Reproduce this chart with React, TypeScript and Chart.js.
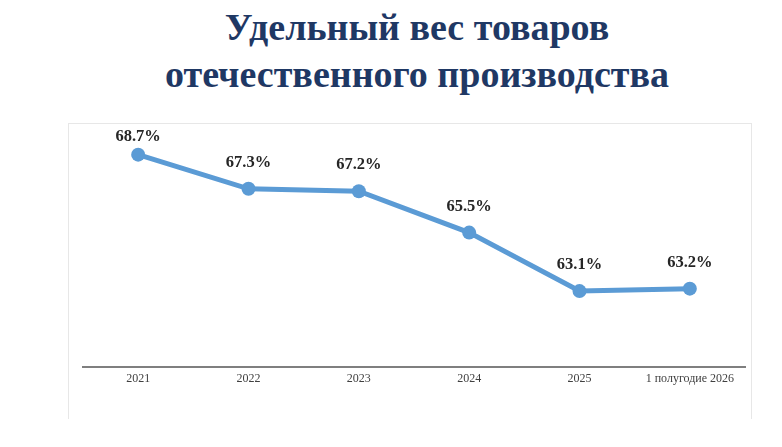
import { useEffect, useRef } from "react";
import { Chart, registerables } from "chart.js";

Chart.register(...registerables);

const categories = ["2021", "2022", "2023", "2024", "2025", "1 полугодие 2026"];
const shareValues = [68.7, 67.3, 67.2, 65.5, 63.1, 63.2];
const titleLines = ["Удельный вес товаров", "отечественного производства"];

// draws "xx.x%" above each point, kept inside the plot area
const valueLabels = {
  id: "valueLabels",
  afterDatasetsDraw(chart: any) {
    const ctx = chart.ctx;
    const meta = chart.getDatasetMeta(0);
    const top = chart.chartArea.top;
    ctx.save();
    ctx.font = "bold 16.5px 'Liberation Serif', serif";
    ctx.fillStyle = "#262626";
    ctx.textAlign = "center";
    ctx.textBaseline = "middle";
    meta.data.forEach((pt: any, i: number) => {
      const y = Math.max(pt.y - 26, top + 14);
      ctx.fillText(shareValues[i].toFixed(1) + "%", pt.x, y);
    });
    ctx.restore();
  },
};

export default function App() {
  const chartRef = useRef<HTMLCanvasElement>(null);

  useEffect(() => {
    if (!chartRef.current) return;
    const ctx = chartRef.current.getContext("2d");
    if (!ctx) return;

    const myChart = new Chart(ctx, {
      type: "line",
      data: {
        labels: categories,
        datasets: [
          {
            data: shareValues,
            borderColor: "#5B9BD5",
            backgroundColor: "#5B9BD5",
            borderWidth: 5,
            pointRadius: 7,
            pointHoverRadius: 7,
            pointBorderWidth: 0,
            fill: false,
            tension: 0,
          },
        ],
      },
      options: {
        responsive: false,
        animation: false,
        layout: { padding: { left: 83, right: 37, top: 123, bottom: 56 } },
        plugins: {
          legend: { display: false },
          tooltip: { enabled: false },
        },
        scales: {
          x: {
            offset: true,
            grid: { display: false, drawTicks: false },
            border: { display: true, color: "#7f7f7f", width: 2 },
            ticks: {
              padding: 5,
              color: "#404040",
              font: { family: "'Liberation Serif', serif", size: 12 },
              maxRotation: 0,
              autoSkip: false,
            },
          },
          y: {
            display: false,
            min: 60,
            max: 70,
          },
        },
      },
      plugins: [valueLabels],
    });

    return () => {
      myChart.destroy();
    };
  }, []);

  return (
    <div
      style={{
        position: "fixed",
        left: 0,
        top: 0,
        width: 782,
        height: 447,
        background: "#fff",
        overflow: "hidden",
      }}
    >
      {titleLines.map((t, i) => (
        <div
          key={i}
          style={{
            position: "absolute",
            left: 0,
            width: 834,
            top: 5 + i * 47,
            textAlign: "center",
            fontFamily: "'Liberation Serif', serif",
            fontWeight: "bold",
            fontSize: 38,
            lineHeight: "44px",
            color: "#1F3864",
            whiteSpace: "nowrap",
          }}
        >
          {t}
        </div>
      ))}
      <div
        style={{
          position: "absolute",
          left: 68,
          top: 123,
          width: 684,
          height: 296,
          border: "1px solid #e7e7e7",
          borderBottom: "none",
          boxSizing: "border-box",
        }}
      />
      <canvas
        ref={chartRef}
        width={782}
        height={447}
        style={{ position: "absolute", left: 0, top: 0 }}
      />
    </div>
  );
}
